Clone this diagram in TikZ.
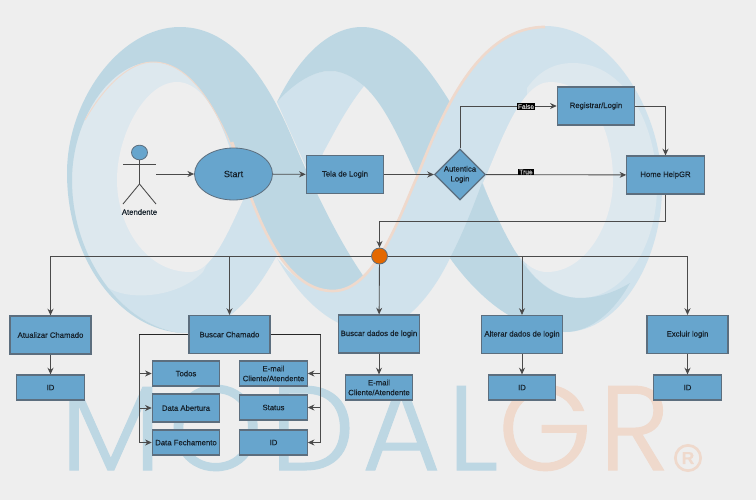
\documentclass[tikz,border=0pt]{standalone}
\usepackage{fontspec}
\setmainfont[FakeBold=0.35]{Liberation Sans}
\newfontfamily\logofont[LetterSpace=6,FakeBold=0.9]{Poppins Light}
\usetikzlibrary{arrows.meta,shapes.geometric}
\definecolor{pagebg}{HTML}{EEEEEE}
\definecolor{logodark}{HTML}{BDD7E3}
\definecolor{logolight}{HTML}{D0E2EC}
\definecolor{logopale}{HTML}{DDE8EE}
\definecolor{logopeach}{HTML}{EFD9CC}
\definecolor{boxfill}{HTML}{67A5CD}
\definecolor{boxedge}{HTML}{5C6E7E}
\definecolor{flowline}{HTML}{4A4A4A}
\definecolor{inktext}{HTML}{16222C}
\definecolor{junctionfill}{HTML}{E46800}
\tikzset{
  flow/.style={draw=flowline,line width=0.65pt,-{Stealth[length=5pt,width=4.5pt]}},
  plainflow/.style={draw=flowline,line width=0.65pt},
  boxbase/.style={draw=boxedge,fill=boxfill,line width=0.9pt,text=inktext,font=\fontsize{5.8}{7.4}\selectfont,align=center,inner sep=0pt},
  bigbox/.style={boxbase,minimum width=60.75pt,minimum height=28.5pt},
  midbox/.style={boxbase,minimum width=58pt,minimum height=28.5pt},
  smallbox/.style={boxbase,minimum width=50.5pt,minimum height=18.75pt},
  flag/.style={fill=black,text=black!20,font=\fontsize{5}{6}\selectfont,inner sep=0.8pt}
}
\begin{document}
\begin{tikzpicture}[x=0.75pt,y=-0.75pt]
  \useasboundingbox (0,0) rectangle (756,500);
  \fill[pagebg] (0,0) rectangle (756,500);
  \fill[logolight] (72,180) .. controls (72,260) and (125,328) .. (183,333) .. controls (225,333) and (255,295) .. (277,255) .. controls (265,235) and (257,215) .. (250,195) .. controls (225,120) and (195,62) .. (153,62) .. controls (110,62) and (72,120) .. (72,180) -- cycle;
  \fill[logolight] (545,26) .. controls (610,26) and (662,110) .. (662,187) .. controls (662,260) and (620,332) .. (565,332) .. controls (520,332) and (480,300) .. (450,258) .. controls (430,300) and (400,331) .. (370,331) .. controls (335,331) and (300,300) .. (277,258) .. controls (290,275) and (310,291) .. (333,291) .. controls (375,291) and (400,215) .. (417,177) .. controls (440,120) and (475,27) .. (545,26) -- cycle;
  \fill[logolight] (277,102) .. controls (295,80) and (315,71) .. (330,71) .. controls (345,71) and (355,78) .. (364,86) .. controls (345,110) and (333,135) .. (323,153) -- (314,185) -- cycle;
  \fill[logopale] (72,180) .. controls (72,120) and (110,62) .. (153,62) .. controls (195,62) and (225,120) .. (243,190) -- (203,272) .. controls (175,300) and (125,300) .. (107,287) .. controls (85,260) and (72,220) .. (72,180) -- cycle;
  \fill[logopale] (527,88) .. controls (540,70) and (555,63) .. (573,63) .. controls (625,63) and (657,125) .. (657,187) .. controls (657,245) and (625,298) .. (580,298) .. controls (560,298) and (540,285) .. (527,267) -- cycle;
  \fill[pagebg] (177,82) .. controls (145,82) and (117,135) .. (117,180) .. controls (117,225) and (145,272) .. (190,272) .. controls (210,272) and (225,240) .. (243,200) .. controls (235,160) and (215,82) .. (177,82) -- cycle;
  \fill[pagebg] (550,82) .. controls (520,82) and (500,145) .. (483,183) .. controls (495,215) and (515,272) .. (547,272) .. controls (585,272) and (613,225) .. (613,180) .. controls (613,130) and (590,82) .. (550,82) -- cycle;
  \fill[logodark] (183,333) .. controls (120,330) and (67,260) .. (67,173) .. controls (67,100) and (120,27) .. (180,27) .. controls (235,27) and (270,85) .. (293,140) .. controls (310,180) and (335,235) .. (364,277) .. controls (352,287) and (343,291) .. (333,291) .. controls (290,291) and (265,235) .. (250,195) .. controls (225,120) and (195,62) .. (153,62) .. controls (110,62) and (72,120) .. (72,180) .. controls (72,260) and (125,328) .. (183,333) -- cycle;
  \fill[logodark] (277,102) .. controls (300,55) and (330,27) .. (362,27) .. controls (400,27) and (430,70) .. (450,102) -- (417,177) .. controls (400,140) and (385,105) .. (364,86) .. controls (352,76) and (342,71) .. (330,71) .. controls (312,71) and (292,85) .. (277,102) -- cycle;
  \fill[logodark] (482,183) .. controls (472,210) and (462,235) .. (450,258) .. controls (480,300) and (520,332) .. (565,332) .. controls (592,332) and (615,310) .. (630,283) .. controls (612,294) and (595,298) .. (580,298) .. controls (530,298) and (505,235) .. (482,183) -- cycle;
  \draw[logopeach,line width=0.7pt] (85,120) .. controls (105,85) and (130,62) .. (153,62) .. controls (195,62) and (225,120) .. (250,195);
  \draw[logopeach,line width=2pt] (232,142) .. controls (238,158) and (245,180) .. (250,195) .. controls (265,235) and (290,291) .. (333,291) .. controls (375,291) and (400,215) .. (417,177) .. controls (440,120) and (475,27) .. (545,27);
  \node[anchor=base west,inner sep=0pt,text=logodark,font=\logofont\fontsize{90}{90}\selectfont] (logotext) at (60,470) {MODAL\textcolor{logopeach}{GR}};
  \node[draw=logopeach,line width=2pt,circle,minimum size=19pt,inner sep=0pt,text=logopeach,font=\bfseries\fontsize{13}{13}\selectfont] (logomark) at (688,458) {R};

  \node[draw=boxedge,fill=boxfill,ellipse,line width=0.6pt,minimum width=12pt,minimum height=11pt,inner sep=0pt] (head) at (139.5,152.5) {};
  \coordinate (hip) at (139.5,184);
  \coordinate (armL) at (123,164.5);
  \coordinate (armR) at (156,164.5);
  \coordinate (legL) at (123,204);
  \coordinate (legR) at (156,204);
  \coordinate (actorout) at (156,174);
  \node[text=inktext,font=\fontsize{5.8}{7}\selectfont,inner sep=0pt] (atendente) at (139.5,212) {Atendente};
  \node[boxbase,ellipse,minimum width=58.5pt,minimum height=39pt,line width=0.6pt,font=\fontsize{6.8}{8}\selectfont] (start) at (233.5,174) {Start};
  \node[midbox] (tela) at (345,174.5) {Tela de Login};
  \node[boxbase,diamond,minimum width=38.25pt,minimum height=38.25pt,inner sep=-3pt] (autentica) at (460,174.5) {Autentica\\Login};
  \node[midbox] (registrar) at (596,106) {Registrar/Login};
  \node[midbox] (home) at (665.5,175) {Home HelpGR};
  \node[draw=boxedge,fill=junctionfill,circle,minimum size=12pt,inner sep=0pt,line width=0.6pt] (juncao) at (379.5,256) {};

  \node[bigbox] (atualizar) at (50.5,335) {Atualizar Chamado};
  \node[smallbox] (idatualizar) at (50.5,387.5) {ID};
  \node[bigbox] (buscar) at (229.5,334.5) {Buscar Chamado};
  \node[smallbox] (todos) at (186,373.5) {Todos};
  \node[smallbox,minimum height=21pt] (abertura) at (186,408) {Data Abertura};
  \node[smallbox] (fechamento) at (186,442.5) {Data Fechamento};
  \node[smallbox] (emailbuscar) at (273.5,373.5) {E-mail\\Cliente/Atendente};
  \node[smallbox] (status) at (273.5,407.5) {Status};
  \node[smallbox] (idbuscar) at (273.5,442.5) {ID};
  \node[bigbox] (dados) at (379,334) {Buscar dados de login};
  \node[smallbox] (emaildados) at (379,387.5) {E-mail\\Cliente/Atendente};
  \node[bigbox] (alterar) at (522,334.5) {Alterar dados de login};
  \node[smallbox] (idalterar) at (522,387.5) {ID};
  \node[bigbox] (excluir) at (687.5,334.5) {Excluir login};
  \node[smallbox] (idexcluir) at (687.5,387.5) {ID};

  \coordinate (busL) at (50.5,256);
  \coordinate (busB) at (229.5,256);
  \coordinate (busA) at (522,256);
  \coordinate (busE) at (687.5,256);
  \coordinate (homeDown) at (665.5,221);
  \coordinate (juncaoUp) at (379.5,221);
  \coordinate (buscarL) at (139,334.5);
  \coordinate (buscarR) at (320.5,334.5);

  \begin{scope}[plainflow]
    \draw (head) to (hip);
    \draw (armL) to (armR);
    \draw (hip) to (legL);
    \draw (hip) to (legR);
    \draw (juncao) to (busL);
    \draw (juncao) to (busE);
  \end{scope}
  \begin{scope}[flow]
    \draw (actorout) to (start);
    \draw (start) to (tela);
    \draw (tela) to (autentica);
    \draw (autentica.north) |- (registrar.west);
    \draw (autentica) to (home);
    \draw (registrar.east) -| (home.north);
    \draw (home.south) -- (homeDown) -- (juncaoUp) -- (juncao.north);
    \draw (busL) to (atualizar);
    \draw (busB) to (buscar);
    \draw (juncao) to (dados);
    \draw (busA) to (alterar);
    \draw (busE) to (excluir);
    \draw (atualizar) to (idatualizar);
    \draw (dados) to (emaildados);
    \draw (alterar) to (idalterar);
    \draw (excluir) to (idexcluir);
    \draw (buscarL) |- (todos.west);
    \draw (buscarL) |- (abertura.west);
    \draw (buscarL) |- (fechamento.west);
    \draw (buscarR) |- (emailbuscar.east);
    \draw (buscarR) |- (status.east);
    \draw (buscarR) |- (idbuscar.east);
  \end{scope}
  \draw[black!85,line width=0.8pt] (buscar.west) to (buscarL);
  \draw[black!85,line width=0.8pt] (buscar.east) to (buscarR);
  \node[flag] (false) at (526,106.5) {False};
  \node[flag] (true) at (526,172) {True};
\end{tikzpicture}
\end{document}
